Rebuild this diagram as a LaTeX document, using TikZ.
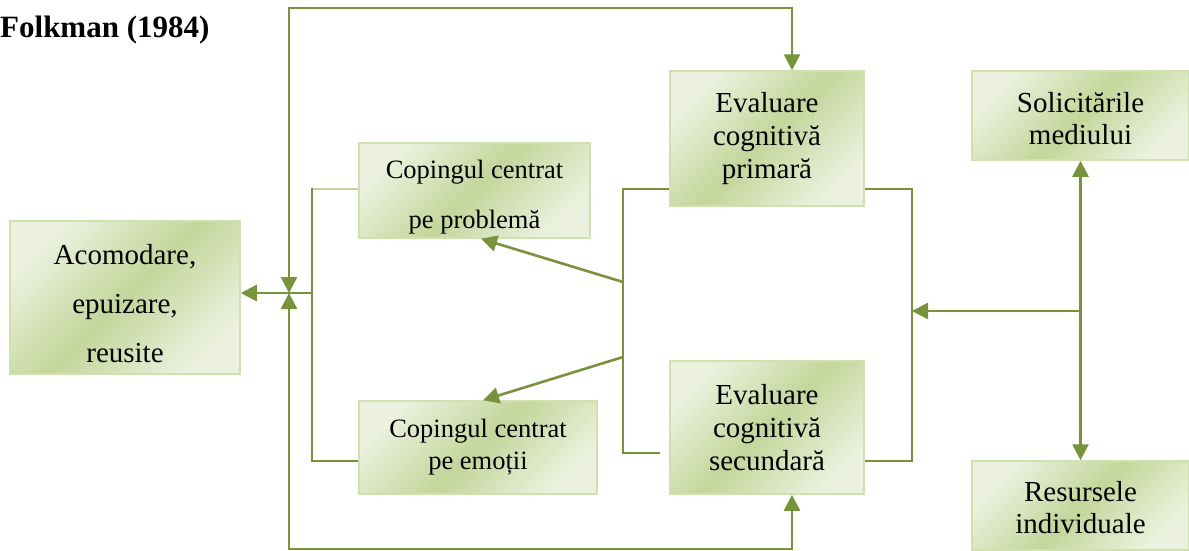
\documentclass[tikz,border=0pt]{standalone}
\usepackage{fontspec}
\setmainfont{Liberation Serif}
\usetikzlibrary{arrows.meta,calc}
\definecolor{gl}{HTML}{EBF1DE}
\definecolor{gd}{HTML}{C3D69B}
\definecolor{gb}{HTML}{D0E0AE}
\definecolor{ln}{HTML}{77933C}
\pgfdeclarehorizontalshading{boxgrad}{100bp}{color(0bp)=(gl); color(25bp)=(gl); color(50bp)=(gd); color(75bp)=(gl); color(100bp)=(gl)}
\begin{document}
\begin{tikzpicture}[x=1pt,y=-1pt,
  box/.style={rectangle, draw=gb, line width=1.5pt, shading=boxgrad, shading angle=-45,
    align=center, inner sep=0pt, font=\fontsize{29}{33}\selectfont},
  conn/.style={draw=ln, line width=2.6pt},
  connlight/.style={draw=gd, line width=2.6pt},
  arr/.style={conn, -{Triangle[length=16pt,width=16pt]}},
  darr/.style={conn, {Triangle[length=16pt,width=16pt]}-{Triangle[length=16pt,width=16pt]}}
]
\useasboundingbox (0,0) rectangle (1189,550);
\fill[white] (0,0) rectangle (1189,550);

\node[font=\bfseries\fontsize{31}{31}\selectfont, anchor=west, inner sep=0pt] (T) at (0,30) {Folkman (1984)};

\node[box, minimum width=230pt, minimum height=153pt, font=\fontsize{29}{49}\selectfont, text height=129.6pt, text depth=0pt] (A) at (125,297.5) {Acomodare,\\epuizare,\\reusite};
\node[box, minimum width=231pt, minimum height=95pt, font=\fontsize{26.5}{50}\selectfont, text height=82.1pt, text depth=5.75pt] (CP) at (474.5,190.5) {Copingul centrat\\pe problemă};
\node[box, minimum width=238pt, minimum height=93pt, font=\fontsize{26.5}{32}\selectfont] (CE) at (478,447.5) {Copingul centrat\\pe emoții};
\node[box, minimum width=194pt, minimum height=135pt] (EP) at (767,138.5) {Evaluare\\cognitivă\\primară};
\node[box, minimum width=194pt, minimum height=133pt] (ES) at (767,427.5) {Evaluare\\cognitivă\\secundară};
\node[box, minimum width=217pt, minimum height=89pt, font=\fontsize{29}{32}\selectfont, text height=57.8pt, text depth=0pt] (SM) at (1080.5,115.5) {Solicitările\\mediului};
\node[box, minimum width=217pt, minimum height=89pt, font=\fontsize{29}{32}\selectfont, text height=55.8pt, text depth=0pt] (RI) at (1080.5,505.5) {Resursele\\individuale};

\coordinate (jt) at (289,293);
\coordinate (jl) at (312,293);
\coordinate (lt) at (289,8);
\coordinate (lb) at (289,549);
\coordinate (jr) at (1080,311);
\coordinate (mid1) at (623,282);
\coordinate (mid2) at (623,357);

% outer loops
\draw[darr] (jt) -- (lt) -| ($(EP.north)+(25,0)$);
\draw[darr] (jt) -- (lb) -| ($(ES.south)+(25,0)$);
% output to Acomodare
\draw[arr] (jl) -- (A.east |- jl);
% left bracket
\draw[connlight] (CP.west |- 0,189) -- (312,189);
\draw[conn] (312,187.7) -- (312,461) -- (CE.west |- 0,461);
% middle bracket
\draw[conn] (EP.west |- 0,189) -| (623,453) -- ($(ES.west |- 0,453)+(-9,0)$);
\draw[arr] (mid1) -- ($(CP.south)+(6.5,0)$);
\draw[arr] (mid2) -- ($(CE.north)+(5,0)$);
% right bracket
\draw[conn] (EP.east |- 0,189) -| (912,461) -- (ES.east |- 0,461);
\draw[arr] (jr) -- (912,311);
\draw[darr] (SM.south) -- (RI.north);
\end{tikzpicture}
\end{document}
